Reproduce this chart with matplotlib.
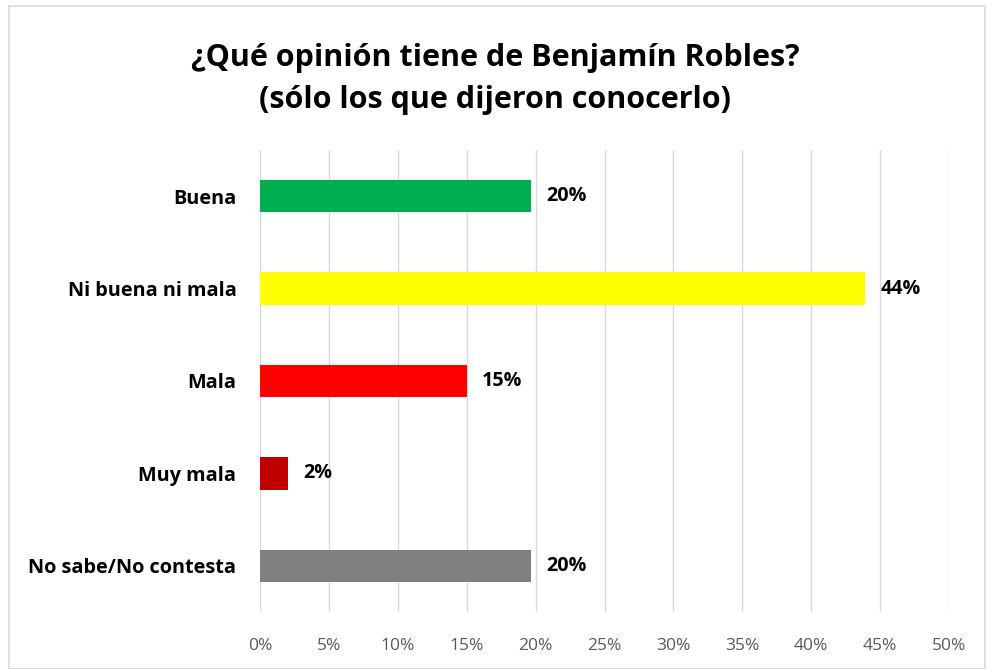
import matplotlib.pyplot as plt
from matplotlib.patches import Rectangle

# Opinion survey data
categories = ["Buena", "Ni buena ni mala", "Mala", "Muy mala", "No sabe/No contesta"]
values = [19.7, 43.9, 15.0, 2.0, 19.7]
colors = ["#00B050", "#FFFF00", "#FF0000", "#C00000", "#808080"]
ticks = list(range(0, 55, 5))

W, H = 990, 669
fig = plt.figure(figsize=(W / 100, H / 100), dpi=100)
fig.patch.set_facecolor("white")

# outer chart border
fig.add_artist(Rectangle((9 / W, 0.0), (985 - 9) / W, 1 - 6 / H - 0.0,
                         transform=fig.transFigure, fill=False,
                         edgecolor="#D9D9D9", linewidth=1.2))

ax = fig.add_axes([260 / W, 1 - 612 / H, (949 - 260) / W, (612 - 150) / H])
ypos = range(len(categories))
ax.barh(ypos, values, height=0.35, color=colors, zorder=3)
ax.set_xlim(0, 50)
ax.set_ylim(len(categories) - 0.5, -0.5)

ax.set_xticks(ticks)
ax.set_xticklabels([f"{t}%" for t in ticks], fontsize=12.5, color="#595959",
                   family="Open Sans")
ax.set_yticks(list(ypos))
ax.set_yticklabels(categories, fontsize=14.3, fontweight="bold",
                   family="Open Sans")
ax.tick_params(axis="both", length=0)
ax.tick_params(axis="x", pad=19)
ax.tick_params(axis="y", pad=17)
ax.grid(axis="x", color="#D9D9D9", linewidth=1, zorder=0)
for s in ax.spines.values():
    s.set_visible(False)

for y, v in zip(ypos, values):
    ax.annotate(f"{v:.0f}%", (v, y), xytext=(11, 0), textcoords="offset points",
                va="center", ha="left", fontsize=14.2, fontweight="bold",
                family="Open Sans")

fig.text(495 / W, 1 - 79 / H,
         "¿Qué opinión tiene de Benjamín Robles?\n(sólo los que dijeron conocerlo)",
         ha="center", va="center", fontsize=22, fontweight="bold",
         family="Open Sans", linespacing=1.55)

fig.savefig("out.png", dpi=100)
